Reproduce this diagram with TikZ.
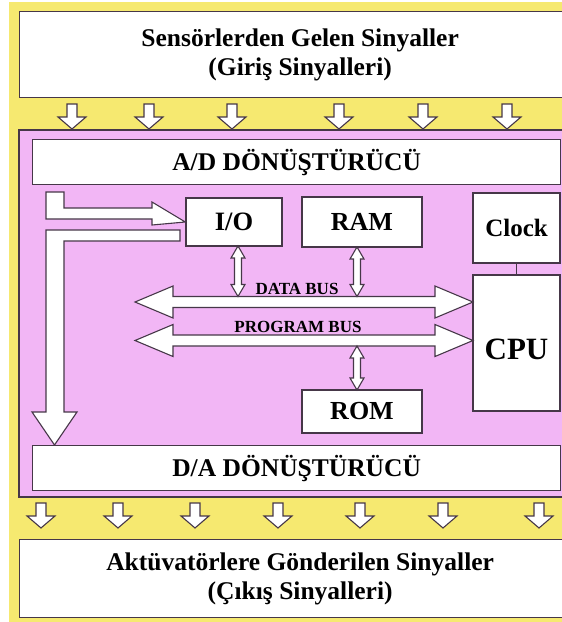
\documentclass[tikz,border=0pt]{standalone}
\usepackage{fontspec}
\setmainfont{Liberation Serif}
\usetikzlibrary{calc}
\definecolor{bgyellow}{RGB}{246,233,112}
\definecolor{panelpink}{RGB}{242,182,245}
\definecolor{edgecol}{RGB}{70,55,72}
\newcommand\downarr[2]{% x, ytop
  \draw[blockarrow] ({#1-5},#2) -- ({#1+5},#2) -- ({#1+5},{#2+13}) -- ({#1+14},{#2+13})
    -- (#1,{#2+25}) -- ({#1-14},{#2+13}) -- ({#1-5},{#2+13}) -- cycle;}
\newcommand\vdarr[3]{% x, y1, y2
  \draw[blockarrow] (#1,#2) -- ({#1+7},{#2+12}) -- ({#1+3.5},{#2+12}) -- ({#1+3.5},{#3-12})
    -- ({#1+7},{#3-12}) -- (#1,#3) -- ({#1-7},{#3-12}) -- ({#1-3.5},{#3-12})
    -- ({#1-3.5},{#2+12}) -- ({#1-7},{#2+12}) -- cycle;}
\newcommand\busarr[3]{% xl, xr, yc
  \draw[blockarrow] (#1,#3) -- ({#1+38},{#3-16}) -- ({#1+38},{#3-5.5}) -- ({#2-38},{#3-5.5})
    -- ({#2-38},{#3-16}) -- (#2,#3) -- ({#2-38},{#3+16}) -- ({#2-38},{#3+5.5})
    -- ({#1+38},{#3+5.5}) -- ({#1+38},{#3+16}) -- cycle;}
\begin{document}
\begin{tikzpicture}[x=1pt,y=-1pt,
  box/.style={draw=edgecol, fill=white, line width=1.3pt, inner sep=0pt, font=\bfseries},
  blockarrow/.style={draw=edgecol, fill=white, line width=1.1pt, line join=miter},
  bigtext/.style={font=\fontsize{25.5}{29}\selectfont\bfseries, align=center},
  bustext/.style={font=\fontsize{17}{19}\selectfont\bfseries, text=black}
]
\useasboundingbox (0,0) rectangle (562,622);
\clip (0,0) rectangle (562,622);
\fill[bgyellow] (9,2) rectangle (580,640);
% pink panel
\draw[edgecol, line width=1.2pt, fill=panelpink] (19,130) rectangle (580,497);
% input box
\node[box, bigtext, anchor=north west, minimum width=561, minimum height=86] (inbox) at (19,11)
  {Sensörlerden Gelen Sinyaller\\(Giriş Sinyalleri)};
% output box
\node[box, bigtext, anchor=north west, minimum width=561, minimum height=78] (outbox) at (19,539)
  {Aktüvatörlere Gönderilen Sinyaller\\(Çıkış Sinyalleri)};
% converters
\node[box, font=\fontsize{25.5}{28}\selectfont\bfseries, anchor=north west, minimum width=528, minimum height=45] (ad) at (32,139) {A/D DÖNÜŞTÜRÜCÜ};
\node[box, font=\fontsize{25.5}{28}\selectfont\bfseries, anchor=north west, minimum width=528, minimum height=45] (da) at (32,445) {D/A DÖNÜŞTÜRÜCÜ};
% blocks
\node[box, font=\fontsize{26.5}{28}\selectfont\bfseries, minimum width=96, minimum height=48] (io) at (234,222) {I/O};
\node[box, font=\fontsize{26}{28}\selectfont\bfseries, minimum width=120, minimum height=50] (ram) at (362,222) {RAM};
\node[box, font=\fontsize{26}{28}\selectfont\bfseries, minimum width=120, minimum height=43] (rom) at (362,411.5) {ROM};
\node[box, font=\fontsize{25}{28}\selectfont\bfseries, minimum width=87, minimum height=70] (clock) at (516.5,228) {Clock};
\node[box, minimum width=87, minimum height=136] (cpu) at (516.5,343) {};
\node[font=\fontsize{31}{34}\selectfont\bfseries] (cputext) at (516.5,349) {CPU};
\draw[edgecol, line width=1.2pt] (clock.south) -- (cpu.north);
% input arrows
\foreach \x in {72,149,232,339,423,507} {\downarr{\x}{104}}
% output arrows
\foreach \x in {41,118,195,278,360,443,539} {\downarr{\x}{503}}
% buses
\busarr{135}{473}{302}
\busarr{135}{473}{340.5}
\node[bustext] (dbus) at (297,289) {DATA BUS};
\node[bustext] (pbus) at (298,327) {PROGRAM BUS};
% small bidirectional arrows
\vdarr{238}{246}{296.5}
\vdarr{357}{247}{296.5}
\vdarr{357}{346}{390}
% left arrows: A/D to I/O
\draw[blockarrow] (46,192) -- (64,192) -- (64,208) -- (152,208) -- (152,202) -- (io.west)
  -- (152,225) -- (152,219) -- (46,219) -- cycle;
% I/O to D/A
\draw[blockarrow] (180,230) -- (180,241) -- (64,241) -- (64,412) -- (77,412) -- (54.5,445)
  -- (32,412) -- (46,412) -- (46,230) -- cycle;
\end{tikzpicture}
\end{document}
